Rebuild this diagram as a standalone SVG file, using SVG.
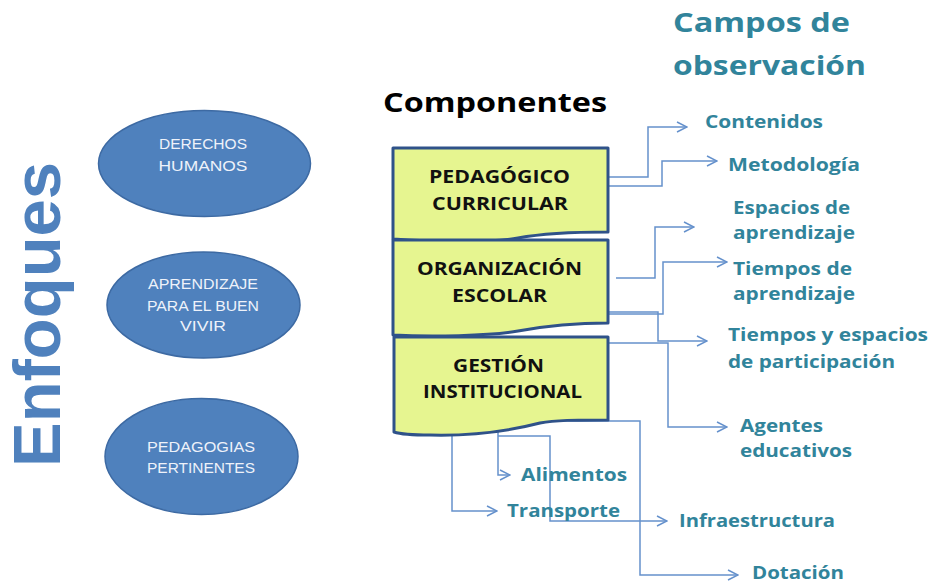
<svg xmlns="http://www.w3.org/2000/svg" width="933" height="585" viewBox="0 0 933 585">
<style>
.bg{fill:#ffffff}
.ell{fill:#4f81bd;stroke:#3d6aa3;stroke-width:1.5}
.etx{font-family:"Liberation Sans","Open Sans",sans-serif;font-size:14.5px;fill:#eef2fa;text-anchor:middle}
.box{fill:#e6f590;stroke:#2f5289;stroke-width:3;stroke-linejoin:round}
.btx{font-family:"Open Sans","Liberation Sans",sans-serif;font-size:18px;font-weight:bold;fill:#111111}
.lbl{font-family:"Open Sans","Liberation Sans",sans-serif;font-size:18px;font-weight:bold;fill:#31849b}
.ttl{font-family:"Open Sans","Liberation Sans",sans-serif;font-size:27px;font-weight:bold;fill:#31849b}
.cmp{font-family:"Open Sans","Liberation Sans",sans-serif;font-size:27px;font-weight:bold;fill:#000000}
.enf{font-family:"Liberation Sans","Arial",sans-serif;font-size:66px;font-weight:bold;fill:#4f81bd;text-anchor:middle}
.con{fill:none;stroke:#6591cc;stroke-width:1.5}
</style>
<defs>
<marker id="arr" viewBox="0 0 12 12" refX="11" refY="6" markerWidth="12" markerHeight="12" markerUnits="userSpaceOnUse" orient="auto">
<path d="M1,1 L11,6 L1,11" fill="none" stroke="#6591cc" stroke-width="1.5"/>
</marker>
</defs>
<rect class="bg" x="0" y="0" width="933" height="585"/>

<g id="title-enfoques">
<text class="enf" transform="translate(60,314.5) rotate(-90)" x="0" y="0" textLength="305" lengthAdjust="spacingAndGlyphs">Enfoques</text>
</g>

<g id="derechos-humanos">
<ellipse class="ell" cx="204.5" cy="163.5" rx="106" ry="53"/>
<text class="etx" x="203" y="149" textLength="88" lengthAdjust="spacingAndGlyphs">DERECHOS</text>
<text class="etx" x="203" y="171" textLength="89" lengthAdjust="spacingAndGlyphs">HUMANOS</text>
</g>

<g id="aprendizaje-buen-vivir">
<ellipse class="ell" cx="203.5" cy="305" rx="96.5" ry="53"/>
<text class="etx" x="203" y="289" textLength="110" lengthAdjust="spacingAndGlyphs">APRENDIZAJE</text>
<text class="etx" x="203" y="311" textLength="112" lengthAdjust="spacingAndGlyphs">PARA EL BUEN</text>
<text class="etx" x="203" y="331" textLength="46" lengthAdjust="spacingAndGlyphs">VIVIR</text>
</g>

<g id="pedagogias-pertinentes">
<ellipse class="ell" cx="201.5" cy="456.5" rx="96.5" ry="58"/>
<text class="etx" x="201" y="452" textLength="108" lengthAdjust="spacingAndGlyphs">PEDAGOGIAS</text>
<text class="etx" x="201" y="473" textLength="108" lengthAdjust="spacingAndGlyphs">PERTINENTES</text>
</g>

<g id="title-componentes">
<text class="cmp" x="383" y="112" textLength="224" lengthAdjust="spacingAndGlyphs">Componentes</text>
</g>

<g id="title-campos">
<text class="ttl" x="673" y="32" textLength="177" lengthAdjust="spacingAndGlyphs">Campos de</text>
<text class="ttl" x="673" y="75" textLength="193" lengthAdjust="spacingAndGlyphs">observación</text>
</g>

<g id="connectors">
<path class="con" marker-end="url(#arr)" d="M608,177 H648 V127 H687"/>
<path class="con" marker-end="url(#arr)" d="M608,186 H662 V161 H717"/>
<path class="con" marker-end="url(#arr)" d="M616,278 H655 V227 H694"/>
<path class="con" marker-end="url(#arr)" d="M598,314 H663 V262 H727"/>
<path class="con" marker-end="url(#arr)" d="M600,312 H658 V341 H707"/>
<path class="con" marker-end="url(#arr)" d="M608,343 H668 V427 H727"/>
<path class="con" marker-end="url(#arr)" d="M540,421 H640 V575 H738"/>
<path class="con" marker-end="url(#arr)" d="M498,436 H550 V521 H667"/>
<path class="con" marker-end="url(#arr)" d="M498,424 V475 H510"/>
<path class="con" marker-end="url(#arr)" d="M452,436 V511 H497"/>
</g>

<g id="pedagogico-curricular">
<path class="box" d="M393,148 H608 V232 C575,232 545,233 518,238 C490,243 430,242 393,239 Z"/>
<text class="btx" x="429" y="183" textLength="141" lengthAdjust="spacingAndGlyphs">PEDAGÓGICO</text>
<text class="btx" x="432" y="210" textLength="136" lengthAdjust="spacingAndGlyphs">CURRICULAR</text>
</g>

<g id="organizacion-escolar">
<path class="box" d="M393,240 H608 V323 C575,323 545,326 518,331 C490,336 430,337 393,335 Z"/>
<text class="btx" x="417" y="275" textLength="165" lengthAdjust="spacingAndGlyphs">ORGANIZACIÓN</text>
<text class="btx" x="452" y="302" textLength="95" lengthAdjust="spacingAndGlyphs">ESCOLAR</text>
</g>

<g id="gestion-institucional">
<path class="box" d="M394,337 H608 V420 C575,420 555,420 540,423 C505,432 470,436 430,435 C410,435 400,434 394,432 Z"/>
<text class="btx" x="453" y="372" textLength="91" lengthAdjust="spacingAndGlyphs">GESTIÓN</text>
<text class="btx" x="423" y="398" textLength="159" lengthAdjust="spacingAndGlyphs">INSTITUCIONAL</text>
</g>

<g id="contenidos"><text class="lbl" x="705" y="128" textLength="118" lengthAdjust="spacingAndGlyphs">Contenidos</text></g>
<g id="metodologia"><text class="lbl" x="728" y="171" textLength="132" lengthAdjust="spacingAndGlyphs">Metodología</text></g>
<g id="espacios-aprendizaje">
<text class="lbl" x="733" y="214" textLength="117" lengthAdjust="spacingAndGlyphs">Espacios de</text>
<text class="lbl" x="733" y="239" textLength="122" lengthAdjust="spacingAndGlyphs">aprendizaje</text>
</g>
<g id="tiempos-aprendizaje">
<text class="lbl" x="733" y="275" textLength="119" lengthAdjust="spacingAndGlyphs">Tiempos de</text>
<text class="lbl" x="733" y="300" textLength="122" lengthAdjust="spacingAndGlyphs">aprendizaje</text>
</g>
<g id="tiempos-espacios-participacion">
<text class="lbl" x="728" y="341" textLength="200" lengthAdjust="spacingAndGlyphs">Tiempos y espacios</text>
<text class="lbl" x="728" y="368" textLength="167" lengthAdjust="spacingAndGlyphs">de participación</text>
</g>
<g id="agentes-educativos">
<text class="lbl" x="740" y="432" textLength="83" lengthAdjust="spacingAndGlyphs">Agentes</text>
<text class="lbl" x="740" y="457" textLength="112" lengthAdjust="spacingAndGlyphs">educativos</text>
</g>
<g id="alimentos"><text class="lbl" x="521" y="481" textLength="106" lengthAdjust="spacingAndGlyphs">Alimentos</text></g>
<g id="transporte"><text class="lbl" x="507" y="517" textLength="113" lengthAdjust="spacingAndGlyphs">Transporte</text></g>
<g id="infraestructura"><text class="lbl" x="679" y="527" textLength="156" lengthAdjust="spacingAndGlyphs">Infraestructura</text></g>
<g id="dotacion"><text class="lbl" x="752" y="579" textLength="92" lengthAdjust="spacingAndGlyphs">Dotación</text></g>
</svg>
